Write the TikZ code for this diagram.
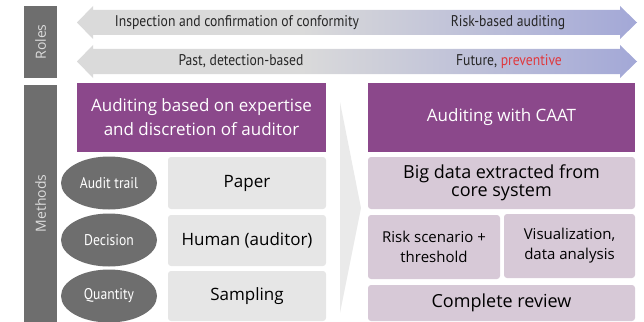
\documentclass[tikz,border=0pt]{standalone}
\usepackage{fontspec}
\setmainfont{Open Sans}
\newfontfamily\narrowfont[FakeStretch=0.88]{PT Sans}
\usetikzlibrary{shapes.geometric}

\definecolor{sidegrey}{HTML}{6E6E6E}
\definecolor{auditpurple}{HTML}{8B488B}
\definecolor{boxgrey}{HTML}{E6E6E6}
\definecolor{boxmauve}{HTML}{D7C9D7}
\definecolor{chevgrey}{HTML}{EAEAEA}
\definecolor{arrowgrey}{HTML}{DADADA}
\definecolor{arrowblue}{HTML}{A3A8D7}
\definecolor{futurered}{HTML}{E0393E}
\definecolor{roletext}{HTML}{DCDCDC}

\pgfdeclarehorizontalshading{roleshade}{100bp}{color(0bp)=(arrowgrey); color(45bp)=(arrowgrey); color(75bp)=(arrowblue); color(100bp)=(arrowblue)}

\tikzset{
  sidebox/.style={fill=sidegrey, text=roletext, minimum height=33pt, rotate=90, font=\fontsize{14}{16}\selectfont},
  headbox/.style={fill=auditpurple, text=white, align=center, minimum height=69pt, font=\fontsize{17}{24}\selectfont},
  greybox/.style={fill=boxgrey, rounded corners=3pt, minimum width=158pt, font=\fontsize{17}{19}\selectfont},
  mauvebox/.style={fill=boxmauve, rounded corners=3pt, align=center, font=\fontsize{18}{18.5}\selectfont},
  smallmauve/.style={mauvebox, minimum height=64pt, font=\fontsize{15}{20}\selectfont},
  trailoval/.style={ellipse, fill=sidegrey, text=white, minimum width=96pt, minimum height=53pt, inner sep=0pt, font=\narrowfont\fontsize{15.5}{17}\selectfont},
  roletxt/.style={text=black!85, font=\narrowfont\fontsize{15.5}{17}\selectfont},
  rolearrow/.style={shading=roleshade}
}

\begin{document}
\begin{tikzpicture}[x=1pt,y=-1pt]
\useasboundingbox (0,0) rectangle (644,321);

% Roles
\node[sidebox, minimum width=72pt]
(roles) at (40.5,42)
{Roles};

\shade[rolearrow]
(77,22.5) -- (93,6) -- (93,10) -- (620,10) -- (620,6) -- (637,22.5)
-- (620,39) -- (620,35) -- (93,35) -- (93,39) -- cycle;
\node[roletxt]
(inspection) at (237,22.5)
{Inspection and confirmation of conformity};
\node[roletxt]
(riskbased) at (508,22.5)
{Risk-based auditing};

\shade[rolearrow]
(77,61.5) -- (93,45) -- (93,49) -- (620,49) -- (620,45) -- (637,61.5)
-- (620,78) -- (620,74) -- (93,74) -- (93,78) -- cycle;
\node[roletxt]
(past) at (241,61.5)
{Past, detection-based};
\node[roletxt]
(future) at (509,61.5)
{Future, \textcolor{futurered}{preventive}};

% Methods
\node[sidebox, minimum width=237pt]
(methods) at (40.5,203.5)
{Methods};

\node[headbox, minimum width=249pt]
(expertise) at (201.5,117.5)
{Auditing based on expertise\\and discretion of auditor};

\node[trailoval]
(trail) at (109,183)
{Audit trail};
\node[trailoval]
(decision) at (109,240)
{Decision};
\node[trailoval]
(quantity) at (109,296)
{Quantity};

\node[greybox, minimum height=52pt]
(paper) at (247,183)
{Paper};
\node[greybox, minimum height=51pt]
(human) at (247,240.5)
{Human (auditor)};
\node[greybox, minimum height=50pt]
(sampling) at (247,296)
{Sampling};

% Fleche centrale
\fill[chevgrey]
(340,102) -- (361,208) -- (340,313) -- cycle;

% CAAT
\node[headbox, minimum width=267pt]
(caat) at (501.5,117.5)
{Auditing with CAAT};

\node[mauvebox, minimum width=267pt, minimum height=52pt]
(bigdata) at (501.5,183)
{Big data extracted from\\core system};
\node[smallmauve, minimum width=132pt]
(scenario) at (434,247)
{Risk scenario +\\threshold};
\node[smallmauve, minimum width=131pt]
(visual) at (569.5,246)
{Visualization,\\data analysis};
\node[mauvebox, minimum width=267pt, minimum height=36pt]
(review) at (501.5,303)
{Complete review};

\end{tikzpicture}
\end{document}
